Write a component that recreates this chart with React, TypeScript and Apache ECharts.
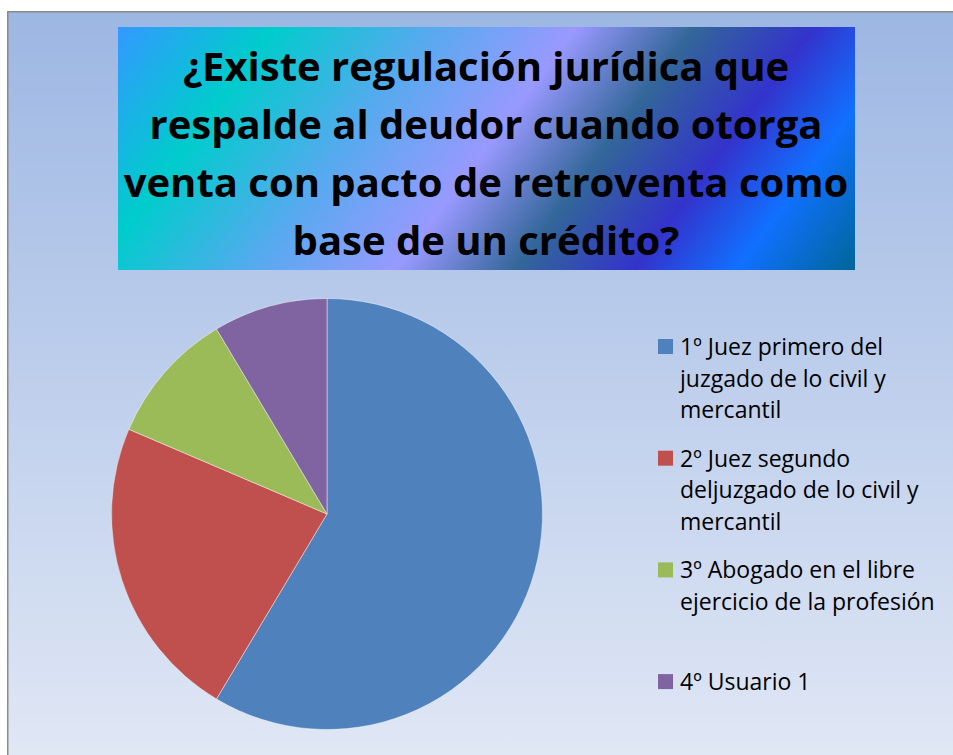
import React, { useEffect, useRef } from "react";
import * as echarts from "echarts";

const titleLines = [
  "¿Existe regulación jurídica que",
  "respalde al deudor cuando otorga",
  "venta con pacto de retroventa como",
  "base de un crédito?",
];

const categories = [
  "1º Juez primero del juzgado de lo civil y mercantil",
  "2º Juez segundo deljuzgado de lo civil y mercantil",
  "3º Abogado en el libre ejercicio de la profesión",
  "4º Usuario 1",
];

const legendLines = [
  ["1º Juez primero del", "juzgado de lo civil y", "mercantil"],
  ["2º Juez segundo", "deljuzgado de lo civil y", "mercantil"],
  ["3º Abogado en el libre", "ejercicio de la profesión"],
  ["4º Usuario 1"],
];

const values = [41, 16, 7, 6];

const colors = ["#4f81bd", "#c0504d", "#9bbb59", "#8064a2"];

const titleStops = [
  { offset: 0, color: "#3399ff" },
  { offset: 0.17, color: "#00cccc" },
  { offset: 0.34, color: "#55aaee" },
  { offset: 0.5, color: "#9999ff" },
  { offset: 0.63, color: "#336699" },
  { offset: 0.76, color: "#3333cc" },
  { offset: 0.87, color: "#1170ff" },
  { offset: 1, color: "#006699" },
];

export default function App() {
  const ref = useRef<HTMLDivElement>(null);

  useEffect(() => {
    if (!ref.current) return;
    const chart = echarts.init(ref.current, undefined, { renderer: "svg" });

    const legendElements: any[] = [];
    const slot = 111.7;
    const lh = 31.7;
    const fs = 23;
    legendLines.forEach((lines, i) => {
      const baseline = 355 + i * slot;
      legendElements.push({
        type: "rect",
        shape: { x: 658, y: baseline - 16, width: 15, height: 15 },
        style: { fill: colors[i] },
        z: 5,
      });
      legendElements.push({
        type: "text",
        x: 680,
        y: baseline - 0.388 * fs - lh / 2,
        style: {
          text: lines.join("\n"),
          font: fs + "px 'Open Sans'",
          lineHeight: lh,
          fill: "#000",
          verticalAlign: "top",
        },
        z: 5,
      });
    });

    chart.setOption({
      animation: false,
      title: {
        text: titleLines.join("\n"),
        left: 486,
        top: 36,
        padding: 0,
        textAlign: "center",
        textStyle: {
          fontFamily: "Open Sans",
          fontWeight: "bold",
          fontSize: 40,
          lineHeight: 58,
          color: "#000",
        },
      },
      graphic: [
        {
          type: "rect",
          z: -10,
          shape: { x: 7.75, y: 11.75, width: 970, height: 780 },
          style: {
            fill: {
              type: "linear",
              x: 0,
              y: 12,
              x2: 0,
              y2: 755,
              global: true,
              colorStops: [
                { offset: 0, color: "#9db7e3" },
                { offset: 1, color: "#e0e7f5" },
              ],
            },
            stroke: "#8a8a8a",
            lineWidth: 1.5,
          },
        },
        {
          type: "rect",
          z: -5,
          shape: { x: 118, y: 27, width: 737, height: 243 },
          style: {
            fill: {
              type: "linear",
              x: 118,
              y: 27,
              x2: 709.5,
              y2: 465.3,
              global: true,
              colorStops: titleStops,
            },
          },
        },
        ...legendElements,
      ],
      series: [
        {
          type: "pie",
          center: [327, 514],
          radius: 215.5,
          startAngle: 90,
          clockwise: true,
          silent: true,
          label: { show: false },
          labelLine: { show: false },
          emphasis: { disabled: true },
          itemStyle: { borderColor: "rgba(255,255,255,0.55)", borderWidth: 0.8 },
          data: categories.map((name, i) => ({
            name,
            value: values[i],
            itemStyle: { color: colors[i] },
          })),
        },
      ],
    });

    return () => chart.dispose();
  }, []);

  return (
    <div
      ref={ref}
      style={{
        position: "absolute",
        left: 0,
        top: 0,
        width: 953,
        height: 755,
        background: "#ffffff",
      }}
    />
  );
}
